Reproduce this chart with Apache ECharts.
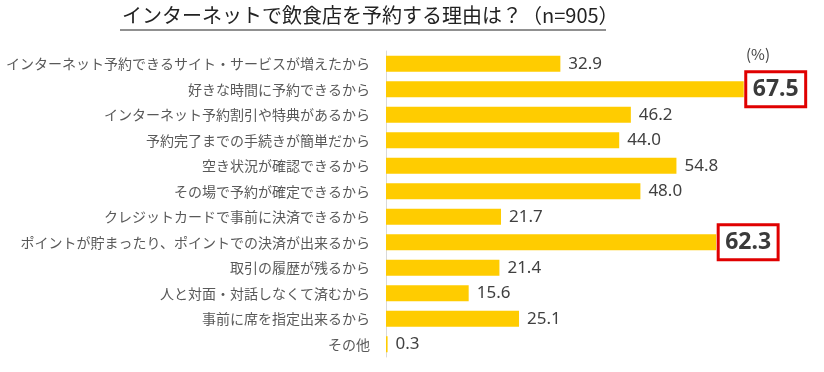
<!DOCTYPE html>
<html><head><meta charset="utf-8">
<script src="https://cdn.jsdelivr.net/npm/echarts@6/dist/echarts.min.js"></script>
<style>html,body{margin:0;padding:0;background:#fff}#c{width:824px;height:372px}</style>
</head><body><div id="c"></div>
<script>
const titleText = 'インターネットで飲食店を予約する理由は？（n=905）';
const unitText = '(%)';
const categories = [
  'インターネット予約できるサイト・サービスが増えたから',
  '好きな時間に予約できるから',
  'インターネット予約割引や特典があるから',
  '予約完了までの手続きが簡単だから',
  '空き状況が確認できるから',
  'その場で予約が確定できるから',
  'クレジットカードで事前に決済できるから',
  'ポイントが貯まったり、ポイントでの決済が出来るから',
  '取引の履歴が残るから',
  '人と対面・対話しなくて済むから',
  '事前に席を指定出来るから',
  'その他'
];
const values = [32.9, 67.5, 46.2, 44.0, 54.8, 48.0, 21.7, 62.3, 21.4, 15.6, 25.1, 0.3];
const highlighted = [1, 7];

const jp = '"Noto Sans CJK JP", "Noto Sans", sans-serif';
const chart = echarts.init(document.getElementById('c'), null, {renderer: 'canvas'});
const seriesData = values.map((v, i) => {
  const item = {value: v};
  if (highlighted.includes(i)) {
    item.label = {
      fontSize: 23, fontWeight: 'bold', color: '#3a3a3a',
      borderColor: '#e00000', borderWidth: 3, padding: [7, 7, 5, 7], distance: 2
    };
  }
  return item;
});
chart.setOption({
  animation: false,
  grid: {left: 386, top: 51, width: 424, height: 306, containLabel: false},
  xAxis: {type: 'value', min: 0, max: 80, show: false},
  yAxis: {
    type: 'category', data: categories, inverse: true,
    axisLine: {show: true, lineStyle: {color: '#d9d9d9', width: 1}},
    axisTick: {show: false},
    axisLabel: {color: '#595959', fontSize: 14, fontFamily: jp, margin: 16}
  },
  series: [{
    type: 'bar', data: seriesData, barWidth: 16,
    itemStyle: {color: '#FFCC00'},
    label: {show: true, position: 'right', distance: 8, color: '#404040', fontSize: 17,
      fontFamily: '"Noto Sans", sans-serif', formatter: p => p.value.toFixed(1)}
  }],
  graphic: [
    {type: 'text', left: 122, top: 5, style: {text: titleText, font: '20px ' + jp, fill: '#222'}},
    {type: 'line', shape: {x1: 120, y1: 30, x2: 606, y2: 30}, style: {stroke: '#222', lineWidth: 1}},
    {type: 'text', left: 746, top: 47, style: {text: unitText, font: '15px ' + jp, fill: '#404040'}}
  ]
});
</script></body></html>
